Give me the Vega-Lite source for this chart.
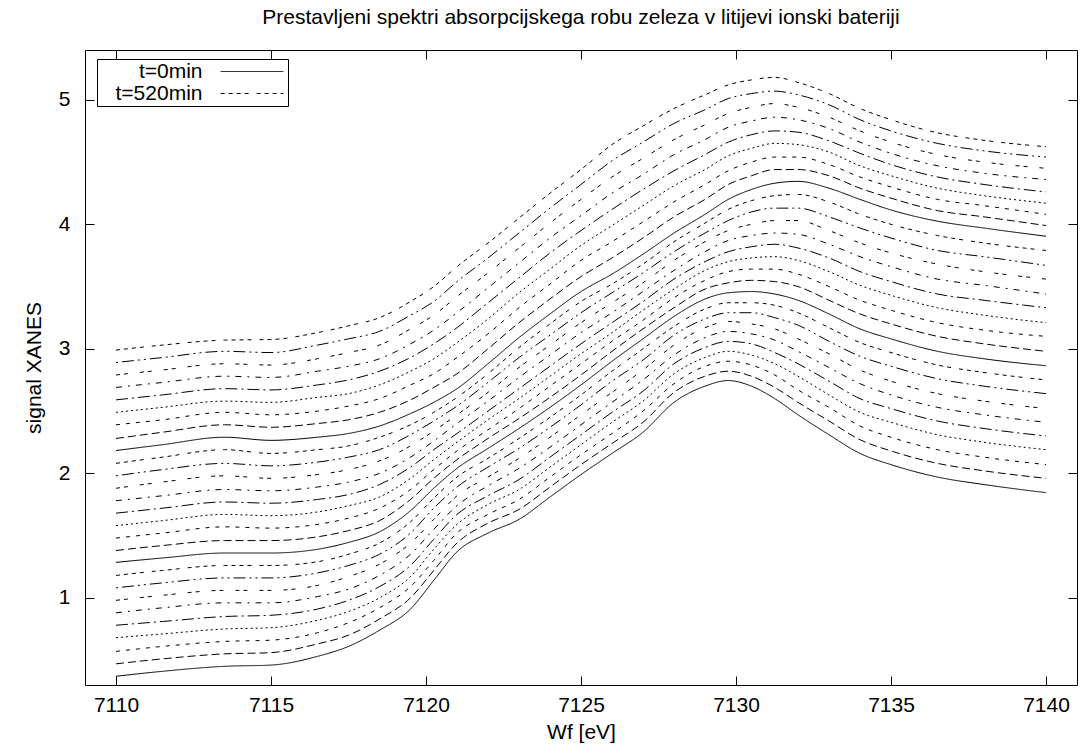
{
"$schema": "https://vega.github.io/schema/vega-lite/v6.json",
"width": 992, "height": 635,
"autosize": {"type": "none"},
"padding": {"left": 85, "top": 50, "right": 4, "bottom": 68},
"background": "white",
"config": {
 "font": "Liberation Sans",
 "view": {"stroke": "black", "strokeWidth": 1},
 "axis": {"grid": false, "domain": false, "tickColor": "black", "tickWidth": 1, "labelColor": "black", "titleColor": "black", "labelFont": "Liberation Sans", "titleFont": "Liberation Sans", "labelFontSize": 21, "titleFontSize": 21, "titleFontWeight": "normal", "tickSize": -9}
},
"title": {"text": "Prestavljeni spektri absorpcijskega robu zeleza v litijevi ionski bateriji", "fontSize": 21, "fontWeight": "normal", "font": "Liberation Sans", "color": "black", "anchor": "middle", "offset": 22},
"data": {"values": [
{"t":0,"x":7110,"y":0.37},{"t":0,"x":7111.5,"y":0.41},{"t":0,"x":7113.5,"y":0.45},{"t":0,"x":7115,"y":0.46},{"t":0,"x":7116.5,"y":0.53},{"t":0,"x":7117.5,"y":0.61},{"t":0,"x":7118.5,"y":0.74},{"t":0,"x":7119.5,"y":0.91},{"t":0,"x":7120.25,"y":1.14},{"t":0,"x":7121,"y":1.37},{"t":0,"x":7122,"y":1.52},{"t":0,"x":7123,"y":1.63},{"t":0,"x":7124,"y":1.81},{"t":0,"x":7125,"y":1.99},{"t":0,"x":7126,"y":2.16},{"t":0,"x":7127,"y":2.33},{"t":0,"x":7128,"y":2.57},{"t":0,"x":7129,"y":2.70},{"t":0,"x":7129.75,"y":2.745},{"t":0,"x":7130.5,"y":2.70},{"t":0,"x":7131.25,"y":2.60},{"t":0,"x":7132,"y":2.47},{"t":0,"x":7133,"y":2.31},{"t":0,"x":7134,"y":2.16},{"t":0,"x":7135,"y":2.07},{"t":0,"x":7136.5,"y":1.97},{"t":0,"x":7138,"y":1.91},{"t":0,"x":7140,"y":1.845},
{"t":20,"x":7110,"y":0.47},{"t":20,"x":7111.5,"y":0.51},{"t":20,"x":7113.5,"y":0.55},{"t":20,"x":7115,"y":0.56},{"t":20,"x":7116.5,"y":0.63},{"t":20,"x":7117.5,"y":0.70},{"t":20,"x":7118.5,"y":0.83},{"t":20,"x":7119.5,"y":1.00},{"t":20,"x":7120.25,"y":1.22},{"t":20,"x":7121,"y":1.44},{"t":20,"x":7122,"y":1.60},{"t":20,"x":7123,"y":1.71},{"t":20,"x":7124,"y":1.89},{"t":20,"x":7125,"y":2.07},{"t":20,"x":7126,"y":2.24},{"t":20,"x":7127,"y":2.41},{"t":20,"x":7128,"y":2.65},{"t":20,"x":7129,"y":2.78},{"t":20,"x":7129.75,"y":2.82},{"t":20,"x":7130.5,"y":2.78},{"t":20,"x":7131.25,"y":2.69},{"t":20,"x":7132,"y":2.57},{"t":20,"x":7133,"y":2.42},{"t":20,"x":7134,"y":2.27},{"t":20,"x":7135,"y":2.18},{"t":20,"x":7136.5,"y":2.08},{"t":20,"x":7138,"y":2.02},{"t":20,"x":7140,"y":1.96},
{"t":40,"x":7110,"y":0.57},{"t":40,"x":7111.5,"y":0.61},{"t":40,"x":7113.5,"y":0.65},{"t":40,"x":7115,"y":0.66},{"t":40,"x":7116.5,"y":0.72},{"t":40,"x":7117.5,"y":0.80},{"t":40,"x":7118.5,"y":0.92},{"t":40,"x":7119.5,"y":1.09},{"t":40,"x":7120.25,"y":1.30},{"t":40,"x":7121,"y":1.52},{"t":40,"x":7122,"y":1.67},{"t":40,"x":7123,"y":1.79},{"t":40,"x":7124,"y":1.97},{"t":40,"x":7125,"y":2.15},{"t":40,"x":7126,"y":2.32},{"t":40,"x":7127,"y":2.50},{"t":40,"x":7128,"y":2.72},{"t":40,"x":7129,"y":2.86},{"t":40,"x":7129.75,"y":2.90},{"t":40,"x":7130.5,"y":2.87},{"t":40,"x":7131.25,"y":2.79},{"t":40,"x":7132,"y":2.67},{"t":40,"x":7133,"y":2.53},{"t":40,"x":7134,"y":2.38},{"t":40,"x":7135,"y":2.29},{"t":40,"x":7136.5,"y":2.19},{"t":40,"x":7138,"y":2.13},{"t":40,"x":7140,"y":2.07},
{"t":60,"x":7110,"y":0.68},{"t":60,"x":7111.5,"y":0.71},{"t":60,"x":7113.5,"y":0.75},{"t":60,"x":7115,"y":0.76},{"t":60,"x":7116.5,"y":0.82},{"t":60,"x":7117.5,"y":0.89},{"t":60,"x":7118.5,"y":1.00},{"t":60,"x":7119.5,"y":1.17},{"t":60,"x":7120.25,"y":1.39},{"t":60,"x":7121,"y":1.59},{"t":60,"x":7122,"y":1.75},{"t":60,"x":7123,"y":1.87},{"t":60,"x":7124,"y":2.05},{"t":60,"x":7125,"y":2.23},{"t":60,"x":7126,"y":2.41},{"t":60,"x":7127,"y":2.58},{"t":60,"x":7128,"y":2.80},{"t":60,"x":7129,"y":2.93},{"t":60,"x":7129.75,"y":2.98},{"t":60,"x":7130.5,"y":2.95},{"t":60,"x":7131.25,"y":2.88},{"t":60,"x":7132,"y":2.78},{"t":60,"x":7133,"y":2.63},{"t":60,"x":7134,"y":2.49},{"t":60,"x":7135,"y":2.41},{"t":60,"x":7136.5,"y":2.31},{"t":60,"x":7138,"y":2.25},{"t":60,"x":7140,"y":2.19},
{"t":80,"x":7110,"y":0.78},{"t":80,"x":7111.5,"y":0.81},{"t":80,"x":7113.5,"y":0.85},{"t":80,"x":7115,"y":0.86},{"t":80,"x":7116.5,"y":0.91},{"t":80,"x":7117.5,"y":0.98},{"t":80,"x":7118.5,"y":1.09},{"t":80,"x":7119.5,"y":1.26},{"t":80,"x":7120.25,"y":1.47},{"t":80,"x":7121,"y":1.67},{"t":80,"x":7122,"y":1.82},{"t":80,"x":7123,"y":1.95},{"t":80,"x":7124,"y":2.13},{"t":80,"x":7125,"y":2.31},{"t":80,"x":7126,"y":2.49},{"t":80,"x":7127,"y":2.66},{"t":80,"x":7128,"y":2.88},{"t":80,"x":7129,"y":3.01},{"t":80,"x":7129.75,"y":3.06},{"t":80,"x":7130.5,"y":3.04},{"t":80,"x":7131.25,"y":2.97},{"t":80,"x":7132,"y":2.88},{"t":80,"x":7133,"y":2.74},{"t":80,"x":7134,"y":2.60},{"t":80,"x":7135,"y":2.52},{"t":80,"x":7136.5,"y":2.42},{"t":80,"x":7138,"y":2.36},{"t":80,"x":7140,"y":2.30},
{"t":100,"x":7110,"y":0.88},{"t":100,"x":7111.5,"y":0.92},{"t":100,"x":7113.5,"y":0.96},{"t":100,"x":7115,"y":0.96},{"t":100,"x":7116.5,"y":1.01},{"t":100,"x":7117.5,"y":1.07},{"t":100,"x":7118.5,"y":1.18},{"t":100,"x":7119.5,"y":1.35},{"t":100,"x":7120.25,"y":1.55},{"t":100,"x":7121,"y":1.74},{"t":100,"x":7122,"y":1.90},{"t":100,"x":7123,"y":2.04},{"t":100,"x":7124,"y":2.21},{"t":100,"x":7125,"y":2.39},{"t":100,"x":7126,"y":2.57},{"t":100,"x":7127,"y":2.75},{"t":100,"x":7128,"y":2.95},{"t":100,"x":7129,"y":3.09},{"t":100,"x":7129.75,"y":3.14},{"t":100,"x":7130.5,"y":3.12},{"t":100,"x":7131.25,"y":3.07},{"t":100,"x":7132,"y":2.98},{"t":100,"x":7133,"y":2.85},{"t":100,"x":7134,"y":2.72},{"t":100,"x":7135,"y":2.63},{"t":100,"x":7136.5,"y":2.53},{"t":100,"x":7138,"y":2.47},{"t":100,"x":7140,"y":2.41},
{"t":120,"x":7110,"y":0.98},{"t":120,"x":7111.5,"y":1.02},{"t":120,"x":7113.5,"y":1.06},{"t":120,"x":7115,"y":1.06},{"t":120,"x":7116.5,"y":1.10},{"t":120,"x":7117.5,"y":1.17},{"t":120,"x":7118.5,"y":1.27},{"t":120,"x":7119.5,"y":1.44},{"t":120,"x":7120.25,"y":1.63},{"t":120,"x":7121,"y":1.82},{"t":120,"x":7122,"y":1.97},{"t":120,"x":7123,"y":2.12},{"t":120,"x":7124,"y":2.29},{"t":120,"x":7125,"y":2.47},{"t":120,"x":7126,"y":2.65},{"t":120,"x":7127,"y":2.83},{"t":120,"x":7128,"y":3.03},{"t":120,"x":7129,"y":3.17},{"t":120,"x":7129.75,"y":3.22},{"t":120,"x":7130.5,"y":3.20},{"t":120,"x":7131.25,"y":3.16},{"t":120,"x":7132,"y":3.08},{"t":120,"x":7133,"y":2.96},{"t":120,"x":7134,"y":2.83},{"t":120,"x":7135,"y":2.74},{"t":120,"x":7136.5,"y":2.64},{"t":120,"x":7138,"y":2.58},{"t":120,"x":7140,"y":2.52},
{"t":140,"x":7110,"y":1.08},{"t":140,"x":7111.5,"y":1.12},{"t":140,"x":7113.5,"y":1.16},{"t":140,"x":7115,"y":1.16},{"t":140,"x":7116.5,"y":1.20},{"t":140,"x":7117.5,"y":1.26},{"t":140,"x":7118.5,"y":1.35},{"t":140,"x":7119.5,"y":1.52},{"t":140,"x":7120.25,"y":1.72},{"t":140,"x":7121,"y":1.89},{"t":140,"x":7122,"y":2.05},{"t":140,"x":7123,"y":2.20},{"t":140,"x":7124,"y":2.37},{"t":140,"x":7125,"y":2.55},{"t":140,"x":7126,"y":2.74},{"t":140,"x":7127,"y":2.91},{"t":140,"x":7128,"y":3.11},{"t":140,"x":7129,"y":3.24},{"t":140,"x":7129.75,"y":3.29},{"t":140,"x":7130.5,"y":3.29},{"t":140,"x":7131.25,"y":3.25},{"t":140,"x":7132,"y":3.19},{"t":140,"x":7133,"y":3.06},{"t":140,"x":7134,"y":2.94},{"t":140,"x":7135,"y":2.86},{"t":140,"x":7136.5,"y":2.76},{"t":140,"x":7138,"y":2.70},{"t":140,"x":7140,"y":2.64},
{"t":160,"x":7110,"y":1.18},{"t":160,"x":7111.5,"y":1.22},{"t":160,"x":7113.5,"y":1.26},{"t":160,"x":7115,"y":1.26},{"t":160,"x":7116.5,"y":1.29},{"t":160,"x":7117.5,"y":1.35},{"t":160,"x":7118.5,"y":1.44},{"t":160,"x":7119.5,"y":1.61},{"t":160,"x":7120.25,"y":1.80},{"t":160,"x":7121,"y":1.97},{"t":160,"x":7122,"y":2.12},{"t":160,"x":7123,"y":2.28},{"t":160,"x":7124,"y":2.45},{"t":160,"x":7125,"y":2.63},{"t":160,"x":7126,"y":2.82},{"t":160,"x":7127,"y":3.00},{"t":160,"x":7128,"y":3.18},{"t":160,"x":7129,"y":3.32},{"t":160,"x":7129.75,"y":3.37},{"t":160,"x":7130.5,"y":3.37},{"t":160,"x":7131.25,"y":3.35},{"t":160,"x":7132,"y":3.29},{"t":160,"x":7133,"y":3.17},{"t":160,"x":7134,"y":3.05},{"t":160,"x":7135,"y":2.97},{"t":160,"x":7136.5,"y":2.87},{"t":160,"x":7138,"y":2.81},{"t":160,"x":7140,"y":2.75},
{"t":180,"x":7110,"y":1.285},{"t":180,"x":7111.5,"y":1.32},{"t":180,"x":7113.5,"y":1.36},{"t":180,"x":7115,"y":1.36},{"t":180,"x":7116.5,"y":1.39},{"t":180,"x":7117.5,"y":1.445},{"t":180,"x":7118.5,"y":1.53},{"t":180,"x":7119.5,"y":1.70},{"t":180,"x":7120.25,"y":1.88},{"t":180,"x":7121,"y":2.04},{"t":180,"x":7122,"y":2.20},{"t":180,"x":7123,"y":2.36},{"t":180,"x":7124,"y":2.53},{"t":180,"x":7125,"y":2.71},{"t":180,"x":7126,"y":2.90},{"t":180,"x":7127,"y":3.08},{"t":180,"x":7128,"y":3.26},{"t":180,"x":7129,"y":3.40},{"t":180,"x":7129.75,"y":3.45},{"t":180,"x":7130.5,"y":3.46},{"t":180,"x":7131.25,"y":3.44},{"t":180,"x":7132,"y":3.39},{"t":180,"x":7133,"y":3.28},{"t":180,"x":7134,"y":3.16},{"t":180,"x":7135,"y":3.08},{"t":180,"x":7136.5,"y":2.98},{"t":180,"x":7138,"y":2.92},{"t":180,"x":7140,"y":2.864},
{"t":200,"x":7110,"y":1.38},{"t":200,"x":7111.5,"y":1.42},{"t":200,"x":7113.5,"y":1.46},{"t":200,"x":7115,"y":1.46},{"t":200,"x":7116.5,"y":1.49},{"t":200,"x":7117.5,"y":1.54},{"t":200,"x":7118.5,"y":1.62},{"t":200,"x":7119.5,"y":1.79},{"t":200,"x":7120.25,"y":1.96},{"t":200,"x":7121,"y":2.11},{"t":200,"x":7122,"y":2.28},{"t":200,"x":7123,"y":2.44},{"t":200,"x":7124,"y":2.61},{"t":200,"x":7125,"y":2.79},{"t":200,"x":7126,"y":2.98},{"t":200,"x":7127,"y":3.16},{"t":200,"x":7128,"y":3.33},{"t":200,"x":7129,"y":3.48},{"t":200,"x":7129.75,"y":3.53},{"t":200,"x":7130.5,"y":3.55},{"t":200,"x":7131.25,"y":3.54},{"t":200,"x":7132,"y":3.50},{"t":200,"x":7133,"y":3.39},{"t":200,"x":7134,"y":3.28},{"t":200,"x":7135,"y":3.20},{"t":200,"x":7136.5,"y":3.10},{"t":200,"x":7138,"y":3.04},{"t":200,"x":7140,"y":2.98},
{"t":220,"x":7110,"y":1.48},{"t":220,"x":7111.5,"y":1.52},{"t":220,"x":7113.5,"y":1.57},{"t":220,"x":7115,"y":1.56},{"t":220,"x":7116.5,"y":1.59},{"t":220,"x":7117.5,"y":1.64},{"t":220,"x":7118.5,"y":1.72},{"t":220,"x":7119.5,"y":1.87},{"t":220,"x":7120.25,"y":2.03},{"t":220,"x":7121,"y":2.18},{"t":220,"x":7122,"y":2.35},{"t":220,"x":7123,"y":2.52},{"t":220,"x":7124,"y":2.70},{"t":220,"x":7125,"y":2.88},{"t":220,"x":7126,"y":3.06},{"t":220,"x":7127,"y":3.23},{"t":220,"x":7128,"y":3.41},{"t":220,"x":7129,"y":3.55},{"t":220,"x":7129.75,"y":3.62},{"t":220,"x":7130.5,"y":3.64},{"t":220,"x":7131.25,"y":3.64},{"t":220,"x":7132,"y":3.60},{"t":220,"x":7133,"y":3.50},{"t":220,"x":7134,"y":3.39},{"t":220,"x":7135,"y":3.31},{"t":220,"x":7136.5,"y":3.21},{"t":220,"x":7138,"y":3.15},{"t":220,"x":7140,"y":3.10},
{"t":240,"x":7110,"y":1.58},{"t":240,"x":7111.5,"y":1.62},{"t":240,"x":7113.5,"y":1.67},{"t":240,"x":7115,"y":1.66},{"t":240,"x":7116.5,"y":1.69},{"t":240,"x":7117.5,"y":1.74},{"t":240,"x":7118.5,"y":1.81},{"t":240,"x":7119.5,"y":1.96},{"t":240,"x":7120.25,"y":2.11},{"t":240,"x":7121,"y":2.25},{"t":240,"x":7122,"y":2.43},{"t":240,"x":7123,"y":2.60},{"t":240,"x":7124,"y":2.78},{"t":240,"x":7125,"y":2.96},{"t":240,"x":7126,"y":3.13},{"t":240,"x":7127,"y":3.31},{"t":240,"x":7128,"y":3.48},{"t":240,"x":7129,"y":3.63},{"t":240,"x":7129.75,"y":3.70},{"t":240,"x":7130.5,"y":3.73},{"t":240,"x":7131.25,"y":3.74},{"t":240,"x":7132,"y":3.71},{"t":240,"x":7133,"y":3.62},{"t":240,"x":7134,"y":3.51},{"t":240,"x":7135,"y":3.43},{"t":240,"x":7136.5,"y":3.33},{"t":240,"x":7138,"y":3.27},{"t":240,"x":7140,"y":3.21},
{"t":260,"x":7110,"y":1.68},{"t":260,"x":7111.5,"y":1.72},{"t":260,"x":7113.5,"y":1.77},{"t":260,"x":7115,"y":1.76},{"t":260,"x":7116.5,"y":1.79},{"t":260,"x":7117.5,"y":1.83},{"t":260,"x":7118.5,"y":1.91},{"t":260,"x":7119.5,"y":2.05},{"t":260,"x":7120.25,"y":2.19},{"t":260,"x":7121,"y":2.32},{"t":260,"x":7122,"y":2.50},{"t":260,"x":7123,"y":2.68},{"t":260,"x":7124,"y":2.86},{"t":260,"x":7125,"y":3.04},{"t":260,"x":7126,"y":3.21},{"t":260,"x":7127,"y":3.38},{"t":260,"x":7128,"y":3.56},{"t":260,"x":7129,"y":3.70},{"t":260,"x":7129.75,"y":3.78},{"t":260,"x":7130.5,"y":3.82},{"t":260,"x":7131.25,"y":3.84},{"t":260,"x":7132,"y":3.81},{"t":260,"x":7133,"y":3.73},{"t":260,"x":7134,"y":3.62},{"t":260,"x":7135,"y":3.54},{"t":260,"x":7136.5,"y":3.44},{"t":260,"x":7138,"y":3.39},{"t":260,"x":7140,"y":3.33},
{"t":280,"x":7110,"y":1.78},{"t":280,"x":7111.5,"y":1.82},{"t":280,"x":7113.5,"y":1.87},{"t":280,"x":7115,"y":1.86},{"t":280,"x":7116.5,"y":1.89},{"t":280,"x":7117.5,"y":1.93},{"t":280,"x":7118.5,"y":2.00},{"t":280,"x":7119.5,"y":2.13},{"t":280,"x":7120.25,"y":2.26},{"t":280,"x":7121,"y":2.40},{"t":280,"x":7122,"y":2.58},{"t":280,"x":7123,"y":2.77},{"t":280,"x":7124,"y":2.95},{"t":280,"x":7125,"y":3.13},{"t":280,"x":7126,"y":3.29},{"t":280,"x":7127,"y":3.46},{"t":280,"x":7128,"y":3.63},{"t":280,"x":7129,"y":3.78},{"t":280,"x":7129.75,"y":3.87},{"t":280,"x":7130.5,"y":3.91},{"t":280,"x":7131.25,"y":3.93},{"t":280,"x":7132,"y":3.92},{"t":280,"x":7133,"y":3.84},{"t":280,"x":7134,"y":3.74},{"t":280,"x":7135,"y":3.66},{"t":280,"x":7136.5,"y":3.56},{"t":280,"x":7138,"y":3.51},{"t":280,"x":7140,"y":3.44},
{"t":300,"x":7110,"y":1.88},{"t":300,"x":7111.5,"y":1.93},{"t":300,"x":7113.5,"y":1.98},{"t":300,"x":7115,"y":1.96},{"t":300,"x":7116.5,"y":1.99},{"t":300,"x":7117.5,"y":2.03},{"t":300,"x":7118.5,"y":2.10},{"t":300,"x":7119.5,"y":2.22},{"t":300,"x":7120.25,"y":2.34},{"t":300,"x":7121,"y":2.47},{"t":300,"x":7122,"y":2.65},{"t":300,"x":7123,"y":2.85},{"t":300,"x":7124,"y":3.03},{"t":300,"x":7125,"y":3.21},{"t":300,"x":7126,"y":3.37},{"t":300,"x":7127,"y":3.53},{"t":300,"x":7128,"y":3.71},{"t":300,"x":7129,"y":3.86},{"t":300,"x":7129.75,"y":3.95},{"t":300,"x":7130.5,"y":4.00},{"t":300,"x":7131.25,"y":4.03},{"t":300,"x":7132,"y":4.03},{"t":300,"x":7133,"y":3.95},{"t":300,"x":7134,"y":3.85},{"t":300,"x":7135,"y":3.77},{"t":300,"x":7136.5,"y":3.68},{"t":300,"x":7138,"y":3.62},{"t":300,"x":7140,"y":3.56},
{"t":320,"x":7110,"y":1.98},{"t":320,"x":7111.5,"y":2.03},{"t":320,"x":7113.5,"y":2.08},{"t":320,"x":7115,"y":2.06},{"t":320,"x":7116.5,"y":2.09},{"t":320,"x":7117.5,"y":2.13},{"t":320,"x":7118.5,"y":2.19},{"t":320,"x":7119.5,"y":2.31},{"t":320,"x":7120.25,"y":2.42},{"t":320,"x":7121,"y":2.54},{"t":320,"x":7122,"y":2.73},{"t":320,"x":7123,"y":2.93},{"t":320,"x":7124,"y":3.11},{"t":320,"x":7125,"y":3.29},{"t":320,"x":7126,"y":3.45},{"t":320,"x":7127,"y":3.61},{"t":320,"x":7128,"y":3.78},{"t":320,"x":7129,"y":3.93},{"t":320,"x":7129.75,"y":4.03},{"t":320,"x":7130.5,"y":4.10},{"t":320,"x":7131.25,"y":4.13},{"t":320,"x":7132,"y":4.13},{"t":320,"x":7133,"y":4.06},{"t":320,"x":7134,"y":3.97},{"t":320,"x":7135,"y":3.89},{"t":320,"x":7136.5,"y":3.79},{"t":320,"x":7138,"y":3.74},{"t":320,"x":7140,"y":3.67},
{"t":340,"x":7110,"y":2.08},{"t":340,"x":7111.5,"y":2.13},{"t":340,"x":7113.5,"y":2.19},{"t":340,"x":7115,"y":2.16},{"t":340,"x":7116.5,"y":2.19},{"t":340,"x":7117.5,"y":2.22},{"t":340,"x":7118.5,"y":2.29},{"t":340,"x":7119.5,"y":2.39},{"t":340,"x":7120.25,"y":2.49},{"t":340,"x":7121,"y":2.61},{"t":340,"x":7122,"y":2.80},{"t":340,"x":7123,"y":3.01},{"t":340,"x":7124,"y":3.20},{"t":340,"x":7125,"y":3.38},{"t":340,"x":7126,"y":3.52},{"t":340,"x":7127,"y":3.68},{"t":340,"x":7128,"y":3.86},{"t":340,"x":7129,"y":4.01},{"t":340,"x":7129.75,"y":4.12},{"t":340,"x":7130.5,"y":4.19},{"t":340,"x":7131.25,"y":4.23},{"t":340,"x":7132,"y":4.24},{"t":340,"x":7133,"y":4.18},{"t":340,"x":7134,"y":4.08},{"t":340,"x":7135,"y":4.00},{"t":340,"x":7136.5,"y":3.91},{"t":340,"x":7138,"y":3.85},{"t":340,"x":7140,"y":3.79},
{"t":360,"x":7110,"y":2.183},{"t":360,"x":7111.5,"y":2.23},{"t":360,"x":7113.5,"y":2.29},{"t":360,"x":7115,"y":2.265},{"t":360,"x":7116.5,"y":2.29},{"t":360,"x":7117.5,"y":2.32},{"t":360,"x":7118.5,"y":2.38},{"t":360,"x":7119.5,"y":2.48},{"t":360,"x":7120.25,"y":2.57},{"t":360,"x":7121,"y":2.68},{"t":360,"x":7122,"y":2.88},{"t":360,"x":7123,"y":3.09},{"t":360,"x":7124,"y":3.28},{"t":360,"x":7125,"y":3.46},{"t":360,"x":7126,"y":3.60},{"t":360,"x":7127,"y":3.76},{"t":360,"x":7128,"y":3.93},{"t":360,"x":7129,"y":4.08},{"t":360,"x":7129.75,"y":4.20},{"t":360,"x":7130.5,"y":4.28},{"t":360,"x":7131.25,"y":4.33},{"t":360,"x":7132,"y":4.345},{"t":360,"x":7133,"y":4.29},{"t":360,"x":7134,"y":4.20},{"t":360,"x":7135,"y":4.115},{"t":360,"x":7136.5,"y":4.025},{"t":360,"x":7138,"y":3.97},{"t":360,"x":7140,"y":3.904},
{"t":380,"x":7110,"y":2.28},{"t":380,"x":7111.5,"y":2.33},{"t":380,"x":7113.5,"y":2.39},{"t":380,"x":7115,"y":2.37},{"t":380,"x":7116.5,"y":2.40},{"t":380,"x":7117.5,"y":2.43},{"t":380,"x":7118.5,"y":2.49},{"t":380,"x":7119.5,"y":2.59},{"t":380,"x":7120.25,"y":2.69},{"t":380,"x":7121,"y":2.80},{"t":380,"x":7122,"y":3.00},{"t":380,"x":7123,"y":3.21},{"t":380,"x":7124,"y":3.40},{"t":380,"x":7125,"y":3.58},{"t":380,"x":7126,"y":3.73},{"t":380,"x":7127,"y":3.89},{"t":380,"x":7128,"y":4.06},{"t":380,"x":7129,"y":4.20},{"t":380,"x":7129.75,"y":4.32},{"t":380,"x":7130.5,"y":4.39},{"t":380,"x":7131.25,"y":4.44},{"t":380,"x":7132,"y":4.44},{"t":380,"x":7133,"y":4.39},{"t":380,"x":7134,"y":4.29},{"t":380,"x":7135,"y":4.21},{"t":380,"x":7136.5,"y":4.11},{"t":380,"x":7138,"y":4.06},{"t":380,"x":7140,"y":3.99},
{"t":400,"x":7110,"y":2.39},{"t":400,"x":7111.5,"y":2.43},{"t":400,"x":7113.5,"y":2.49},{"t":400,"x":7115,"y":2.47},{"t":400,"x":7116.5,"y":2.50},{"t":400,"x":7117.5,"y":2.54},{"t":400,"x":7118.5,"y":2.60},{"t":400,"x":7119.5,"y":2.71},{"t":400,"x":7120.25,"y":2.80},{"t":400,"x":7121,"y":2.93},{"t":400,"x":7122,"y":3.12},{"t":400,"x":7123,"y":3.33},{"t":400,"x":7124,"y":3.52},{"t":400,"x":7125,"y":3.71},{"t":400,"x":7126,"y":3.86},{"t":400,"x":7127,"y":4.02},{"t":400,"x":7128,"y":4.18},{"t":400,"x":7129,"y":4.32},{"t":400,"x":7129.75,"y":4.43},{"t":400,"x":7130.5,"y":4.50},{"t":400,"x":7131.25,"y":4.54},{"t":400,"x":7132,"y":4.54},{"t":400,"x":7133,"y":4.48},{"t":400,"x":7134,"y":4.38},{"t":400,"x":7135,"y":4.30},{"t":400,"x":7136.5,"y":4.20},{"t":400,"x":7138,"y":4.15},{"t":400,"x":7140,"y":4.08},
{"t":420,"x":7110,"y":2.49},{"t":420,"x":7111.5,"y":2.53},{"t":420,"x":7113.5,"y":2.58},{"t":420,"x":7115,"y":2.57},{"t":420,"x":7116.5,"y":2.61},{"t":420,"x":7117.5,"y":2.64},{"t":420,"x":7118.5,"y":2.71},{"t":420,"x":7119.5,"y":2.82},{"t":420,"x":7120.25,"y":2.92},{"t":420,"x":7121,"y":3.05},{"t":420,"x":7122,"y":3.24},{"t":420,"x":7123,"y":3.45},{"t":420,"x":7124,"y":3.64},{"t":420,"x":7125,"y":3.83},{"t":420,"x":7126,"y":3.99},{"t":420,"x":7127,"y":4.15},{"t":420,"x":7128,"y":4.31},{"t":420,"x":7129,"y":4.44},{"t":420,"x":7129.75,"y":4.55},{"t":420,"x":7130.5,"y":4.61},{"t":420,"x":7131.25,"y":4.65},{"t":420,"x":7132,"y":4.64},{"t":420,"x":7133,"y":4.58},{"t":420,"x":7134,"y":4.47},{"t":420,"x":7135,"y":4.39},{"t":420,"x":7136.5,"y":4.29},{"t":420,"x":7138,"y":4.23},{"t":420,"x":7140,"y":4.17},
{"t":440,"x":7110,"y":2.59},{"t":440,"x":7111.5,"y":2.63},{"t":440,"x":7113.5,"y":2.68},{"t":440,"x":7115,"y":2.67},{"t":440,"x":7116.5,"y":2.71},{"t":440,"x":7117.5,"y":2.75},{"t":440,"x":7118.5,"y":2.82},{"t":440,"x":7119.5,"y":2.93},{"t":440,"x":7120.25,"y":3.04},{"t":440,"x":7121,"y":3.17},{"t":440,"x":7122,"y":3.37},{"t":440,"x":7123,"y":3.57},{"t":440,"x":7124,"y":3.77},{"t":440,"x":7125,"y":3.95},{"t":440,"x":7126,"y":4.12},{"t":440,"x":7127,"y":4.28},{"t":440,"x":7128,"y":4.43},{"t":440,"x":7129,"y":4.56},{"t":440,"x":7129.75,"y":4.66},{"t":440,"x":7130.5,"y":4.72},{"t":440,"x":7131.25,"y":4.75},{"t":440,"x":7132,"y":4.74},{"t":440,"x":7133,"y":4.67},{"t":440,"x":7134,"y":4.57},{"t":440,"x":7135,"y":4.48},{"t":440,"x":7136.5,"y":4.38},{"t":440,"x":7138,"y":4.32},{"t":440,"x":7140,"y":4.26},
{"t":460,"x":7110,"y":2.69},{"t":460,"x":7111.5,"y":2.73},{"t":460,"x":7113.5,"y":2.78},{"t":460,"x":7115,"y":2.77},{"t":460,"x":7116.5,"y":2.82},{"t":460,"x":7117.5,"y":2.86},{"t":460,"x":7118.5,"y":2.92},{"t":460,"x":7119.5,"y":3.04},{"t":460,"x":7120.25,"y":3.15},{"t":460,"x":7121,"y":3.29},{"t":460,"x":7122,"y":3.49},{"t":460,"x":7123,"y":3.69},{"t":460,"x":7124,"y":3.89},{"t":460,"x":7125,"y":4.07},{"t":460,"x":7126,"y":4.25},{"t":460,"x":7127,"y":4.40},{"t":460,"x":7128,"y":4.56},{"t":460,"x":7129,"y":4.68},{"t":460,"x":7129.75,"y":4.78},{"t":460,"x":7130.5,"y":4.83},{"t":460,"x":7131.25,"y":4.86},{"t":460,"x":7132,"y":4.84},{"t":460,"x":7133,"y":4.77},{"t":460,"x":7134,"y":4.66},{"t":460,"x":7135,"y":4.57},{"t":460,"x":7136.5,"y":4.47},{"t":460,"x":7138,"y":4.41},{"t":460,"x":7140,"y":4.36},
{"t":480,"x":7110,"y":2.79},{"t":480,"x":7111.5,"y":2.83},{"t":480,"x":7113.5,"y":2.88},{"t":480,"x":7115,"y":2.87},{"t":480,"x":7116.5,"y":2.92},{"t":480,"x":7117.5,"y":2.97},{"t":480,"x":7118.5,"y":3.03},{"t":480,"x":7119.5,"y":3.16},{"t":480,"x":7120.25,"y":3.27},{"t":480,"x":7121,"y":3.42},{"t":480,"x":7122,"y":3.61},{"t":480,"x":7123,"y":3.81},{"t":480,"x":7124,"y":4.01},{"t":480,"x":7125,"y":4.20},{"t":480,"x":7126,"y":4.38},{"t":480,"x":7127,"y":4.53},{"t":480,"x":7128,"y":4.68},{"t":480,"x":7129,"y":4.80},{"t":480,"x":7129.75,"y":4.89},{"t":480,"x":7130.5,"y":4.94},{"t":480,"x":7131.25,"y":4.97},{"t":480,"x":7132,"y":4.94},{"t":480,"x":7133,"y":4.86},{"t":480,"x":7134,"y":4.75},{"t":480,"x":7135,"y":4.66},{"t":480,"x":7136.5,"y":4.56},{"t":480,"x":7138,"y":4.50},{"t":480,"x":7140,"y":4.45},
{"t":500,"x":7110,"y":2.89},{"t":500,"x":7111.5,"y":2.93},{"t":500,"x":7113.5,"y":2.98},{"t":500,"x":7115,"y":2.97},{"t":500,"x":7116.5,"y":3.03},{"t":500,"x":7117.5,"y":3.08},{"t":500,"x":7118.5,"y":3.14},{"t":500,"x":7119.5,"y":3.27},{"t":500,"x":7120.25,"y":3.38},{"t":500,"x":7121,"y":3.54},{"t":500,"x":7122,"y":3.73},{"t":500,"x":7123,"y":3.93},{"t":500,"x":7124,"y":4.13},{"t":500,"x":7125,"y":4.32},{"t":500,"x":7126,"y":4.51},{"t":500,"x":7127,"y":4.66},{"t":500,"x":7128,"y":4.81},{"t":500,"x":7129,"y":4.92},{"t":500,"x":7129.75,"y":5.01},{"t":500,"x":7130.5,"y":5.05},{"t":500,"x":7131.25,"y":5.07},{"t":500,"x":7132,"y":5.04},{"t":500,"x":7133,"y":4.96},{"t":500,"x":7134,"y":4.84},{"t":500,"x":7135,"y":4.75},{"t":500,"x":7136.5,"y":4.65},{"t":500,"x":7138,"y":4.59},{"t":500,"x":7140,"y":4.54},
{"t":520,"x":7110,"y":2.99},{"t":520,"x":7111.5,"y":3.03},{"t":520,"x":7113.5,"y":3.07},{"t":520,"x":7115,"y":3.075},{"t":520,"x":7116.5,"y":3.13},{"t":520,"x":7117.5,"y":3.185},{"t":520,"x":7118.5,"y":3.25},{"t":520,"x":7119.5,"y":3.38},{"t":520,"x":7120.25,"y":3.50},{"t":520,"x":7121,"y":3.66},{"t":520,"x":7122,"y":3.85},{"t":520,"x":7123,"y":4.05},{"t":520,"x":7124,"y":4.25},{"t":520,"x":7125,"y":4.44},{"t":520,"x":7126,"y":4.64},{"t":520,"x":7127,"y":4.79},{"t":520,"x":7128,"y":4.93},{"t":520,"x":7129,"y":5.04},{"t":520,"x":7129.75,"y":5.12},{"t":520,"x":7130.5,"y":5.16},{"t":520,"x":7131.25,"y":5.18},{"t":520,"x":7132,"y":5.14},{"t":520,"x":7133,"y":5.05},{"t":520,"x":7134,"y":4.93},{"t":520,"x":7135,"y":4.84},{"t":520,"x":7136.5,"y":4.735},{"t":520,"x":7138,"y":4.675},{"t":520,"x":7140,"y":4.623}
]},
"layer": [
 {
  "mark": {"type": "line", "interpolate": "monotone", "strokeWidth": 1, "color": "black"},
  "encoding": {
   "x": {"field": "x", "type": "quantitative", "scale": {"domain": [7109, 7141], "nice": false, "zero": false},
         "axis": {"values": [7110, 7115, 7120, 7125, 7130, 7135, 7140], "format": "d", "title": "Wf [eV]", "labelPadding": 18, "titlePadding": 6}},
   "y": {"field": "y", "type": "quantitative", "scale": {"domain": [0.3, 5.4], "nice": false, "zero": false},
         "axis": {"values": [1, 2, 3, 4, 5], "format": "d", "title": "signal XANES", "labelPadding": 24, "titlePadding": 14}},
   "strokeDash": {"field": "t", "type": "ordinal",
     "scale": {"domain": [0,20,40,60,80,100,120,140,160,180,200,220,240,260,280,300,320,340,360,380,400,420,440,460,480,500,520],
       "range": [[1,0],[8,4],[4,6],[2,3],[12,4,2,4],[6,6,2,6],[4,4,4,12],[2,4,12,4,2,4],[4,4,4,4,4,4,4,8],
                 [1,0],[8,4],[4,6],[2,3],[12,4,2,4],[6,6,2,6],[4,4,4,12],[2,4,12,4,2,4],[4,4,4,4,4,4,4,8],
                 [1,0],[8,4],[4,6],[2,3],[12,4,2,4],[6,6,2,6],[4,4,4,12],[2,4,12,4,2,4],[4,4,4,4,4,4,4,8]]},
     "legend": {"values": [0, 520], "title": null, "orient": "none", "legendX": 12, "legendY": 9,
       "labelExpr": "'t=' + datum.label + 'min'", "labelFontSize": 21, "labelFont": "Liberation Sans", "labelColor": "black",
       "labelAlign": "right", "labelOffset": -60, "symbolOffset": 142.5,
       "symbolType": "M-5.7,0H5.7", "symbolSize": 121, "symbolStrokeWidth": 1, "symbolStrokeColor": "black", "symbolFillColor": "transparent",
       "strokeColor": "black", "padding": 2, "fillColor": "white", "rowPadding": 0}}
  }
 },
 {
  "mark": {"type": "line", "strokeOpacity": 0},
  "encoding": {
   "x": {"field": "x", "type": "quantitative", "axis": {"orient": "top", "values": [7110, 7115, 7120, 7125, 7130, 7135, 7140], "labels": false, "title": null}},
   "y": {"field": "y", "type": "quantitative", "axis": {"orient": "right", "values": [1, 2, 3, 4, 5], "labels": false, "title": null}},
   "detail": {"field": "t"}
  }
 }
],
"resolve": {"axis": {"x": "independent", "y": "independent"}}
}
